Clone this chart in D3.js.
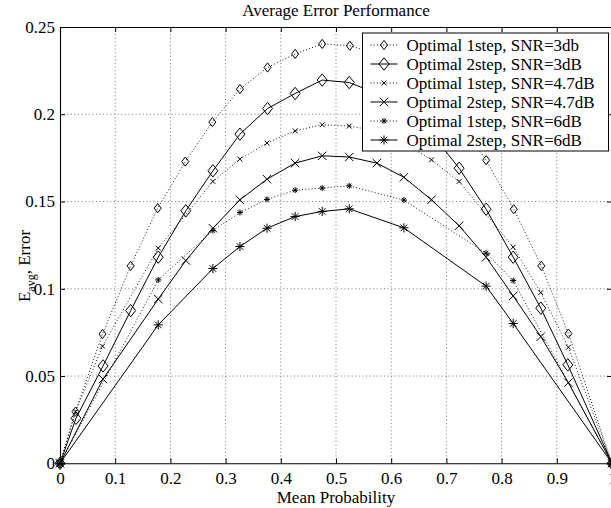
<!DOCTYPE html>
<html>
<head>
<meta charset="utf-8">
<script src="https://cdn.jsdelivr.net/npm/d3@7"></script>
<style>
  body { margin: 0; background: #fff; }
  text { font-family: "Liberation Serif", "Times New Roman", serif; fill: #000; }
</style>
</head>
<body>
<div id="chart"></div>
<script>
// tick labels
const xTicks = [0, 0.1, 0.2, 0.3, 0.4, 0.5, 0.6, 0.7, 0.8, 0.9, 1];
const yTicks = [0, 0.05, 0.1, 0.15, 0.2, 0.25];

// Optimal 1step, SNR=3db
const x1s3 = [0, 0.028, 0.077, 0.128, 0.177, 0.227, 0.276, 0.326, 0.376, 0.426, 0.475, 0.525, 0.574, 0.624, 0.674, 0.723, 0.772, 0.822, 0.872, 0.921, 1];
const y1s3 = [0, 0.0296, 0.0741, 0.1131, 0.1462, 0.1729, 0.1955, 0.2144, 0.2268, 0.2346, 0.2403, 0.2393, 0.2346, 0.2268, 0.2144, 0.1955, 0.1737, 0.1456, 0.1131, 0.0743, 0];
// Optimal 2step, SNR=3dB
const x2s3 = [0, 0.029, 0.078, 0.128, 0.178, 0.228, 0.277, 0.326, 0.376, 0.426, 0.475, 0.524, 0.574, 0.624, 0.674, 0.723, 0.772, 0.821, 0.871, 0.920, 1];
const y2s3 = [0, 0.0258, 0.0558, 0.0875, 0.1181, 0.1447, 0.1676, 0.1886, 0.2033, 0.2119, 0.2196, 0.2182, 0.2119, 0.2033, 0.1886, 0.1691, 0.1456, 0.1181, 0.0889, 0.0564, 0];
// Optimal 1step, SNR=4.7dB
const x1s47 = [0, 0.028, 0.077, 0.178, 0.277, 0.326, 0.375, 0.426, 0.475, 0.524, 0.574, 0.624, 0.673, 0.723, 0.821, 0.871, 0.921, 1];
const y1s47 = [0, 0.0295, 0.0671, 0.1233, 0.1615, 0.1743, 0.1835, 0.1905, 0.194, 0.1932, 0.1905, 0.1835, 0.1739, 0.1615, 0.1239, 0.0978, 0.0665, 0];
// Optimal 2step, SNR=4.7dB
const x2s47 = [0, 0.078, 0.178, 0.228, 0.277, 0.326, 0.375, 0.426, 0.475, 0.524, 0.574, 0.623, 0.673, 0.723, 0.772, 0.821, 0.871, 0.921, 1];
const y2s47 = [0, 0.0483, 0.0941, 0.1162, 0.1347, 0.151, 0.1628, 0.172, 0.1762, 0.1755, 0.172, 0.1639, 0.151, 0.1361, 0.1181, 0.0959, 0.0726, 0.0462, 0];
// Optimal 1step, SNR=6dB
const x1s6 = [0, 0.178, 0.277, 0.326, 0.375, 0.426, 0.475, 0.524, 0.623, 0.772, 0.821, 1];
const y1s6 = [0, 0.1051, 0.1334, 0.1437, 0.1512, 0.1565, 0.1577, 0.159, 0.1508, 0.1204, 0.1047, 0];
// Optimal 2step, SNR=6dB
const x2s6 = [0, 0.178, 0.277, 0.326, 0.375, 0.426, 0.475, 0.524, 0.623, 0.772, 0.821, 1];
const y2s6 = [0, 0.0793, 0.1116, 0.1242, 0.1347, 0.1414, 0.1443, 0.1458, 0.1349, 0.1015, 0.0801, 0];

const labels = ["Optimal 1step, SNR=3db", "Optimal 2step, SNR=3dB", "Optimal 1step, SNR=4.7dB",
                "Optimal 2step, SNR=4.7dB", "Optimal 1step, SNR=6dB", "Optimal 2step, SNR=6dB"];

const width = 611, height = 508;
const mLeft = 60, mRight = 612, mTop = 27, mBottom = 463.3;

// marker paths (MATLAB style, unfilled)
function diamond(w, h){ return `M0,${-h}L${w},0L0,${h}L${-w},0Z`; }
function cross(a){ return `M${-a},${-a}L${a},${a}M${-a},${a}L${a},${-a}`; }
function star(a){ let b = a*0.72; return `M${-a},0L${a},0M0,${-a}L0,${a}M${-b},${-b}L${b},${b}M${-b},${b}L${b},${-b}`; }

const series = [
  {x: x1s3, y: y1s3, dash: "1,2.2", mk: diamond(3.5, 4.6)},
  {x: x2s3, y: y2s3, dash: null, mk: diamond(5, 6.2)},
  {x: x1s47, y: y1s47, dash: "1,2.2", mk: cross(2.4)},
  {x: x2s47, y: y2s47, dash: null, mk: cross(4.2)},
  {x: x1s6, y: y1s6, dash: "1,2.2", mk: star(3)},
  {x: x2s6, y: y2s6, dash: null, mk: star(4.6)}
];

let svg = d3.select("#chart").append("svg")
    .attr("width", width)
    .attr("height", height);

let xScale = d3.scaleLinear().domain([0, 1]).range([mLeft, mRight]);
let yScale = d3.scaleLinear().domain([0, 0.25]).range([mBottom, mTop]);

// grid
svg.append("g").selectAll("line")
  .data(xTicks.slice(1, -1))
  .join("line")
    .attr("x1", d => xScale(d)).attr("x2", d => xScale(d))
    .attr("y1", mTop).attr("y2", mBottom)
    .attr("stroke", "#555").attr("stroke-width", 0.8)
    .attr("stroke-dasharray", "1,2.6");
svg.append("g").selectAll("line")
  .data(yTicks.slice(1, -1))
  .join("line")
    .attr("x1", mLeft).attr("x2", mRight)
    .attr("y1", d => yScale(d)).attr("y2", d => yScale(d))
    .attr("stroke", "#555").attr("stroke-width", 0.8)
    .attr("stroke-dasharray", "1,2.6");

// axes (ticks inside, on all four sides)
let xAxisB = d3.axisBottom(xScale).tickValues(xTicks).tickSize(-5).tickPadding(9).tickFormat(d3.format("~g"));
let xAxisT = d3.axisTop(xScale).tickValues(xTicks).tickSize(-5).tickFormat("");
let yAxisL = d3.axisLeft(yScale).tickValues(yTicks).tickSize(-5).tickPadding(5).tickFormat(d3.format("~g"));
let yAxisR = d3.axisRight(yScale).tickValues(yTicks).tickSize(-5).tickFormat("");

function styleAxis(g){
  g.select(".domain").attr("stroke", "#000").attr("stroke-width", 1.1);
  g.selectAll(".tick line").attr("stroke", "#000");
  g.selectAll("text").attr("font-size", 17).attr("font-family", "Liberation Serif").attr("fill", "#000");
}
svg.append("g").attr("transform", `translate(0,${mBottom})`).call(xAxisB).call(styleAxis);
svg.append("g").attr("transform", `translate(0,${mTop})`).call(xAxisT).call(styleAxis);
svg.append("g").attr("transform", `translate(${mLeft},0)`).call(yAxisL).call(styleAxis);
svg.append("g").attr("transform", `translate(${mRight},0)`).call(yAxisR).call(styleAxis);

// series
series.forEach(s => {
  let pts = s.x.map((v, i) => [v, s.y[i]]);
  let line = d3.line().x(d => xScale(d[0])).y(d => yScale(d[1]));
  svg.append("path")
    .attr("d", line(pts))
    .attr("fill", "none")
    .attr("stroke", "#000")
    .attr("stroke-width", s.dash ? 0.9 : 1)
    .attr("stroke-dasharray", s.dash);
  svg.append("g").selectAll("path")
    .data(pts)
    .join("path")
      .attr("transform", d => `translate(${xScale(d[0])},${yScale(d[1])})`)
      .attr("d", s.mk)
      .attr("fill", "none")
      .attr("stroke", "#000")
      .attr("stroke-width", 1);
});

// title and labels
svg.append("text")
  .attr("x", (mLeft + mRight) / 2).attr("y", 16)
  .attr("text-anchor", "middle").attr("font-size", 17)
  .text("Average Error Performance");
svg.append("text")
  .attr("x", (mLeft + mRight) / 2).attr("y", 503)
  .attr("text-anchor", "middle").attr("font-size", 17)
  .text("Mean Probability");

// y label with subscript, centred by hand
const yLabelMid = 266;
let yl = svg.append("text")
  .attr("font-size", 17);
yl.append("tspan").text("E");
yl.append("tspan").attr("font-size", 12).attr("dy", 5).text("avg");
yl.append("tspan").attr("dy", -5).text(", Error");
let ylLen = yl.node().getComputedTextLength();
yl.attr("transform", `translate(30,${yLabelMid + ylLen / 2}) rotate(-90)`);

// legend
const lgX = 362.5, lgY = 33, lgW = 246, lgH = 118, rowH = 19;
let lg = svg.append("g");
lg.append("rect")
  .attr("x", lgX).attr("y", lgY).attr("width", lgW).attr("height", lgH)
  .attr("fill", "#fff").attr("stroke", "#000").attr("stroke-width", 1);
series.forEach((s, i) => {
  let cy = lgY + 12 + i * rowH;
  lg.append("line")
    .attr("x1", lgX + 8).attr("x2", lgX + 35)
    .attr("y1", cy).attr("y2", cy)
    .attr("stroke", "#000").attr("stroke-width", 1)
    .attr("stroke-dasharray", s.dash);
  lg.append("path")
    .attr("transform", `translate(${lgX + 21.5},${cy})`)
    .attr("d", s.mk).attr("fill", "none").attr("stroke", "#000");
  lg.append("text")
    .attr("x", lgX + 44).attr("y", cy + 5.8)
    .attr("font-size", 17)
    .text(labels[i]);
});
</script>
</body>
</html>
